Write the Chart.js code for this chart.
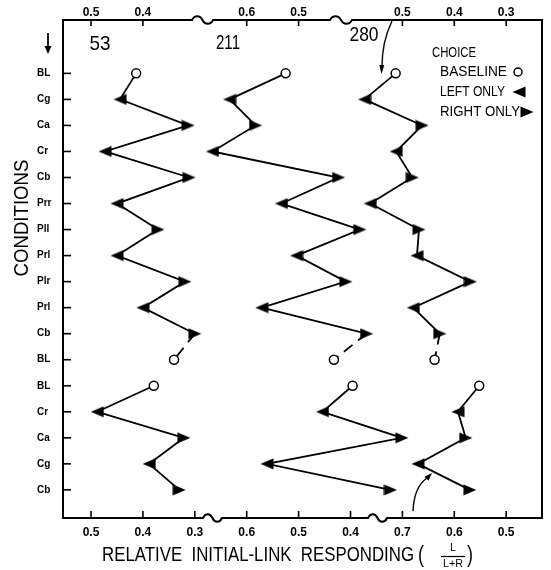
<!DOCTYPE html>
<html><head><meta charset="utf-8">
<script src="https://cdn.jsdelivr.net/npm/chart.js@4.4.1/dist/chart.umd.min.js"></script>
<style>html,body{margin:0;padding:0;background:#fff;}canvas{display:block;}</style>
</head><body>
<canvas id="c" width="551" height="570" style="width:551px;height:570px"></canvas>
<script>
// ---------- data ----------
const conditions = ['BL','Cg','Ca','Cr','Cb','Prr','Pll','Prl','Plr','Prl','Cb','BL','BL','Cr','Ca','Cg','Cb'];
const choice     = ['B','L','R','L','R','L','R','L','R','L','R','B','B','L','R','L','R'];
const subjects   = ['53','211','280'];
const subject53  = [0.413,0.444,0.313,0.473,0.311,0.450,0.371,0.450,0.319,0.400,0.300,0.340, 0.379,0.488,0.321,0.388,0.330];
const subject211 = [0.525,0.633,0.583,0.666,0.423,0.533,0.382,0.504,0.409,0.571,0.369,0.432, 0.396,0.454,0.301,0.561,0.323];
const subject280 = [0.513,0.573,0.462,0.512,0.481,0.562,0.468,0.472,0.369,0.479,0.428,0.438, 0.552,0.593,0.578,0.670,0.570];
const topTickLabels    = [['0.5','0.4'],['0.6','0.5'],['0.5','0.4','0.3']];
const bottomTickLabels = [['0.5','0.4','0.3'],['0.6','0.5','0.4'],['0.7','0.6','0.5']];
const upperRowCount = 12;   // rows 0..11 read on top axis, rows 12..16 on bottom axis
const legendTitle = 'CHOICE';
const legendLabels = ['BASELINE','LEFT ONLY','RIGHT ONLY'];
const yTitle = 'CONDITIONS';
const xTitle = 'RELATIVE  INITIAL-LINK  RESPONDING';

// ---------- layout helpers ----------
const FONT = '"Liberation Sans", Arial, sans-serif';
const panelOffset = [0.54, 3.54, 6.54];
const series = [subject53, subject211, subject280];
function toPos(p, v, origin){ return panelOffset[p] + (origin - v) * 10; }

function tri(dir){
  const c = document.createElement('canvas'); c.width = 14; c.height = 12;
  const g = c.getContext('2d'); g.fillStyle = '#000'; g.beginPath();
  if (dir > 0){ g.moveTo(0.5,0.5); g.lineTo(13.5,6); g.lineTo(0.5,11.5); }
  else { g.moveTo(13.5,0.5); g.lineTo(0.5,6); g.lineTo(13.5,11.5); }
  g.closePath(); g.fill(); return c;
}
const rightImg = tri(1), leftImg = tri(-1);
const styleOf = c => c === 'B' ? 'circle' : (c === 'L' ? leftImg : rightImg);

const datasets = [];
series.forEach((vals, p) => {
  const blocks = [[0, upperRowCount, parseFloat(topTickLabels[p][0])],
                  [upperRowCount, conditions.length, parseFloat(bottomTickLabels[p][0])]];
  blocks.forEach(([a, b, origin], bi) => {
    const idx = []; for (let i = a; i < b; i++) idx.push(i);
    datasets.push({
      label: subjects[p] + (bi ? ' b' : ' a'),
      data: idx.map(i => ({x: toPos(p, vals[i], origin), y: i})),
      showLine: true, borderColor: '#000', borderWidth: 1.8, tension: 0,
      pointStyle: idx.map(i => styleOf(choice[i])),
      pointRadius: idx.map(i => choice[i] === 'B' ? 4.5 : 6),
      pointBackgroundColor: idx.map(i => choice[i] === 'B' ? '#fff' : '#000'),
      pointBorderColor: '#000', pointBorderWidth: 1.5,
      segment: bi === 0 ? { borderDash: c => c.p0DataIndex === 10 ? [11, 7] : undefined } : {}
    });
  });
});

const tickPos = arr => { const out = []; arr.forEach((labs, p) => labs.forEach((l, k) => out.push(panelOffset[p] + k))); return out; };
const flat = arr => [].concat(...arr);
const bottomPos = tickPos(bottomTickLabels), topPos = tickPos(topTickLabels);
const bottomFlat = flat(bottomTickLabels), topFlat = flat(topTickLabels);

function fitText(ctx, text, x, y, w, size, align, weight){
  ctx.save();
  ctx.font = (weight || 'normal') + ' ' + size + 'px ' + FONT;
  const nat = ctx.measureText(text).width;
  ctx.translate(x, y); ctx.scale(w / nat, 1);
  ctx.textAlign = align || 'center'; ctx.textBaseline = 'middle'; ctx.fillStyle = '#000';
  ctx.fillText(text, 0, 0); ctx.restore();
}
function hline(ctx, x0, x1, y, breaks){
  ctx.beginPath(); ctx.moveTo(x0, y);
  breaks.forEach(([a, b]) => {
    const w = b - a; ctx.lineTo(a, y);
    ctx.bezierCurveTo(a + w*0.12, y - 5, a + w*0.38, y - 5, a + w*0.5, y);
    ctx.bezierCurveTo(a + w*0.62, y + 5, a + w*0.88, y + 5, b, y);
  });
  ctx.lineTo(x1, y); ctx.stroke();
}
function arrowHead(ctx, x, y, ang, len, half){
  ctx.save(); ctx.translate(x, y); ctx.rotate(ang);
  ctx.beginPath(); ctx.moveTo(0, 0); ctx.lineTo(-len, -half); ctx.lineTo(-len, half); ctx.closePath(); ctx.fill();
  ctx.restore();
}

const decor = {
  id: 'decor',
  afterDraw(chart){
    const ctx = chart.ctx, a = chart.chartArea;
    const xs = chart.scales.x, xt = chart.scales.x2, ys = chart.scales.y;
    ctx.save(); ctx.strokeStyle = '#000'; ctx.fillStyle = '#000'; ctx.lineCap = 'butt';
    // frame
    ctx.lineWidth = 2;
    hline(ctx, a.left - 1, a.right + 1, a.top, [[192, 213], [330, 352]]);
    hline(ctx, a.left - 1, a.right + 1, a.bottom, [[203, 222], [368, 387]]);
    ctx.beginPath(); ctx.moveTo(a.left, a.top); ctx.lineTo(a.left, a.bottom); ctx.stroke();
    ctx.beginPath(); ctx.moveTo(a.right, a.top); ctx.lineTo(a.right, a.bottom); ctx.stroke();
    // inward ticks
    ctx.lineWidth = 1.6;
    bottomPos.forEach(v => { const px = xs.getPixelForValue(v); ctx.beginPath(); ctx.moveTo(px, a.bottom); ctx.lineTo(px, a.bottom - 7); ctx.stroke(); });
    topPos.forEach(v => { const px = xt.getPixelForValue(v); ctx.beginPath(); ctx.moveTo(px, a.top); ctx.lineTo(px, a.top + 6); ctx.stroke(); });
    conditions.forEach((c, i) => { const py = ys.getPixelForValue(i); ctx.beginPath(); ctx.moveTo(a.left, py); ctx.lineTo(a.left + 8, py); ctx.stroke(); });
    // subject labels
    fitText(ctx, subjects[0], 100, 44, 21, 21);
    fitText(ctx, subjects[1], 228, 43, 24, 21);
    fitText(ctx, subjects[2], 364, 35, 29, 21);
    // legend
    fitText(ctx, legendTitle, 432, 53, 44, 14, 'left');
    fitText(ctx, legendLabels[0], 440, 72, 67, 14, 'left');
    fitText(ctx, legendLabels[1], 440, 92, 65, 14, 'left');
    fitText(ctx, legendLabels[2], 440, 112, 80, 14, 'left');
    ctx.lineWidth = 1.5; ctx.beginPath(); ctx.arc(518, 72, 4, 0, Math.PI*2); ctx.stroke();
    ctx.drawImage(leftImg, 512, 86); ctx.drawImage(rightImg, 520, 106);
    // y title
    ctx.save(); ctx.translate(22, 218); ctx.rotate(-Math.PI/2); fitText(ctx, yTitle, 0, 0, 117, 21); ctx.restore();
    // x title
    fitText(ctx, xTitle, 102, 555, 312, 20, 'left');
    fitText(ctx, '(', 421, 555, 6, 24);
    fitText(ctx, ')', 470, 555, 6, 24);
    fitText(ctx, 'L', 453, 548, 6, 11);
    fitText(ctx, 'L+R', 453, 564, 20, 11);
    ctx.lineWidth = 1.2; ctx.beginPath(); ctx.moveTo(441, 556.5); ctx.lineTo(465, 556.5); ctx.stroke();
    // down arrow near conditions
    ctx.lineWidth = 1.8; ctx.beginPath(); ctx.moveTo(48, 33); ctx.lineTo(48, 47); ctx.stroke();
    arrowHead(ctx, 48, 54, Math.PI/2, 8, 3.5);
    // arrow from 280
    ctx.lineWidth = 1.4; ctx.beginPath(); ctx.moveTo(392, 21); ctx.quadraticCurveTo(382, 42, 382, 66); ctx.stroke();
    arrowHead(ctx, 381.5, 74, Math.PI/2 + 0.03, 9, 2.5);
    // bottom arrow
    ctx.beginPath(); ctx.moveTo(413, 511); ctx.quadraticCurveTo(414, 487, 427, 478); ctx.stroke();
    arrowHead(ctx, 432, 473, -0.8, 8, 2.8);
    ctx.restore();
  }
};

new Chart(document.getElementById('c'), {
  type: 'scatter',
  data: { datasets },
  options: {
    responsive: false, animation: false,
    layout: { padding: { left: 37, right: 9, top: 0, bottom: 0 } },
    plugins: { legend: { display: false }, tooltip: { enabled: false } },
    scales: {
      x: { type: 'linear', position: 'bottom', min: 0, max: 9.23,
        afterBuildTicks: s => { s.ticks = bottomPos.map(v => ({value: v})); },
        afterFit: s => { s.height = 52; },
        grid: { display: false, drawTicks: false }, border: { display: false },
        ticks: { autoSkip: false, maxRotation: 0, padding: 7, color: '#000',
          font: { family: FONT, size: 12, weight: 'bold' }, callback: (v, i) => bottomFlat[i] } },
      x2: { type: 'linear', position: 'top', min: 0, max: 9.23,
        afterBuildTicks: s => { s.ticks = topPos.map(v => ({value: v})); },
        afterFit: s => { s.height = 20; },
        grid: { display: false, drawTicks: false }, border: { display: false },
        ticks: { autoSkip: false, maxRotation: 0, padding: 0, color: '#000',
          font: { family: FONT, size: 12, weight: 'bold' }, callback: (v, i) => topFlat[i] } },
      y: { type: 'linear', reverse: true, min: -2.05, max: 17.08,
        afterBuildTicks: s => { s.ticks = conditions.map((c, i) => ({value: i})); },
        afterFit: s => { s.width = 26; },
        grid: { display: false, drawTicks: false }, border: { display: false },
        ticks: { autoSkip: false, crossAlign: 'far', padding: 0, color: '#000',
          font: { family: FONT, size: 10, weight: 'bold' }, callback: v => conditions[Math.round(v)] } }
    }
  },
  plugins: [decor]
});
</script>
</body></html>
